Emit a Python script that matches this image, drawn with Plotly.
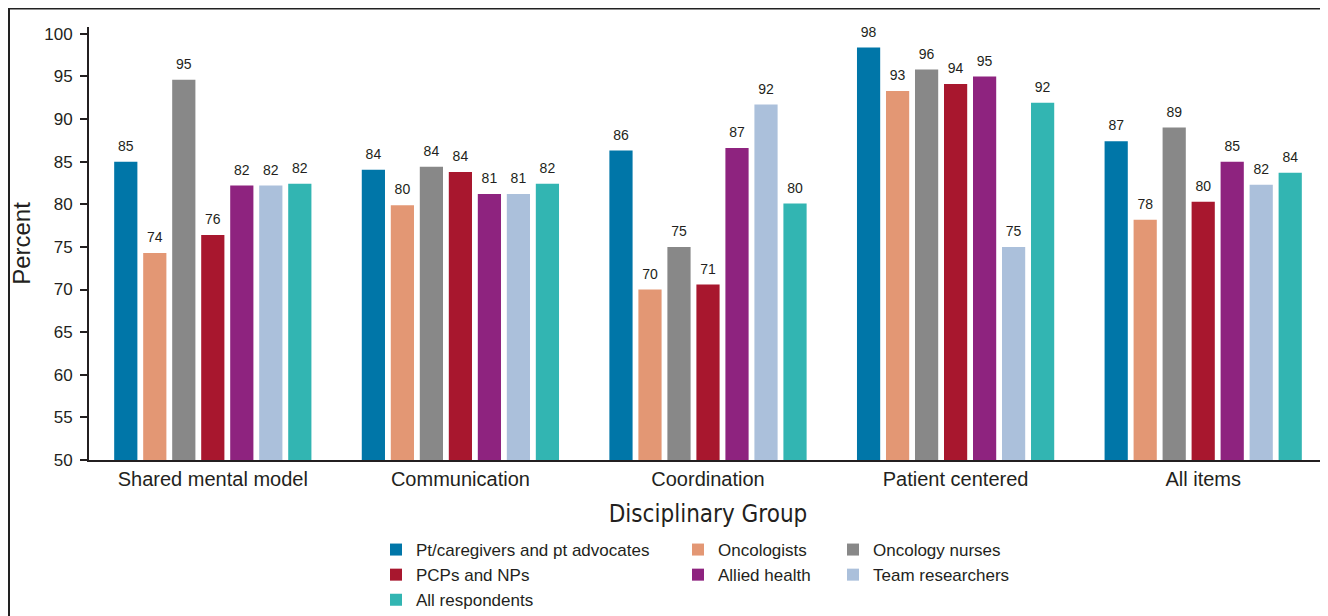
import plotly.graph_objects as go

categories = ["Shared mental model", "Communication", "Coordination", "Patient centered", "All items"]
groups = ["Pt/caregivers and pt advocates", "Oncologists", "Oncology nurses",
          "PCPs and NPs", "Allied health", "Team researchers", "All respondents"]

pt_vals = [85.0, 84.05, 86.3, 98.4, 87.4]
onc_vals = [74.3, 79.9, 70.0, 93.3, 78.2]
nurse_vals = [94.6, 84.4, 75.0, 95.8, 89.0]
pcp_vals = [76.4, 83.8, 70.6, 94.1, 80.3]
allied_vals = [82.2, 81.2, 86.6, 95.0, 85.0]
team_vals = [82.2, 81.2, 91.7, 75.0, 82.3]
all_vals = [82.4, 82.4, 80.1, 91.9, 83.7]

pt_lbl = [85, 84, 86, 98, 87]
onc_lbl = [74, 80, 70, 93, 78]
nurse_lbl = [95, 84, 75, 96, 89]
pcp_lbl = [76, 84, 71, 94, 80]
allied_lbl = [82, 81, 87, 95, 85]
team_lbl = [82, 81, 92, 75, 82]
all_lbl = [82, 82, 80, 92, 84]

y_ticks = [50, 55, 60, 65, 70, 75, 80, 85, 90, 95, 100]

colors = ["#0076A8", "#E39774", "#888888", "#A8172E", "#8E237F", "#ABC0DB", "#32B5B2"]
series = [pt_vals, onc_vals, nurse_vals, pcp_vals, allied_vals, team_vals, all_vals]
labels = [pt_lbl, onc_lbl, nurse_lbl, pcp_lbl, allied_lbl, team_lbl, all_lbl]
legend_ids = ["legend", "legend2", "legend3", "legend", "legend2", "legend3", "legend"]

INK = "#231F20"
FONT = "Arial, Liberation Sans, sans-serif"
NARROW = "DejaVu Sans Condensed, Liberation Sans Narrow, sans-serif"

GAP = 0.18

fig = go.Figure()
for name, vals, col, lg in zip(groups, series, colors, legend_ids):
    fig.add_trace(go.Bar(x=categories, y=vals, name=name, marker=dict(color=col, line=dict(width=0)),
                         legend=lg, hoverinfo="skip"))
for vals, lbl in zip(series, labels):
    fig.add_trace(go.Scatter(x=categories, y=vals, mode="markers+text", text=[str(v) for v in lbl],
                             marker=dict(size=10, color="rgba(0,0,0,0)"),
                             textposition="top center", textfont=dict(size=14, color=INK, family=FONT),
                             showlegend=False, hoverinfo="skip", cliponaxis=False))

# page body has an 8px margin: the figure is drawn 8px right/down of the window corner
OFF = 8
W, H = 1328 - OFF, 616 - OFF
ml, mr, mt, mb = 89 - OFF, 9 - OFF, 27 - OFF, 616 - 460
pw = W - ml - mr
ph = H - mt - mb


def px_x(p):
    return (p - OFF - ml) / pw


def px_y(p):
    return (H - mb - (p - OFF)) / ph


legend_common = dict(orientation="v", yanchor="top", xanchor="left",
                     font=dict(size=17, color=INK, family=FONT), bgcolor="rgba(0,0,0,0)",
                     itemclick=False, itemdoubleclick=False, tracegroupgap=0)

fig.update_layout(
    width=W, height=H,
    margin=dict(l=ml, r=mr, t=mt, b=mb, autoexpand=False),
    paper_bgcolor="white", plot_bgcolor="white",
    barmode="group", bargap=GAP, bargroupgap=0.20,
    scattermode="group", scattergap=GAP,
    font=dict(family=FONT, color=INK),
    xaxis=dict(range=[-0.5, 4.5], showline=True, linecolor=INK, linewidth=2, ticks="",
               tickfont=dict(size=20, color=INK, family=FONT), showgrid=False, zeroline=False,
               title=dict(text="Disciplinary Group", font=dict(size=24, family=NARROW, color=INK), standoff=16)),
    yaxis=dict(range=[50, 100.8], tickvals=y_ticks, showline=True, linecolor=INK, linewidth=2,
               ticks="outside", ticklen=7, tickwidth=1.5, tickcolor=INK, ticklabelstandoff=4,
               tickfont=dict(size=17, color=INK, family=FONT), showgrid=False, zeroline=False,
               title=dict(text="Percent", font=dict(size=24, color=INK, family=FONT), standoff=10)),
    legend=dict(x=px_x(376), y=px_y(532), **legend_common),
    legend2=dict(x=px_x(678), y=px_y(532), **legend_common),
    legend3=dict(x=px_x(833), y=px_y(532), **legend_common),
    shapes=[
        dict(type="line", xref="paper", yref="paper", x0=px_x(9), x1=px_x(9), y0=px_y(700), y1=px_y(8.5),
             line=dict(color="#222222", width=2)),
        dict(type="line", xref="paper", yref="paper", x0=px_x(8), x1=px_x(1400), y0=px_y(8.5), y1=px_y(8.5),
             line=dict(color="#222222", width=2)),
    ],
)

fig.write_html("out.html")
